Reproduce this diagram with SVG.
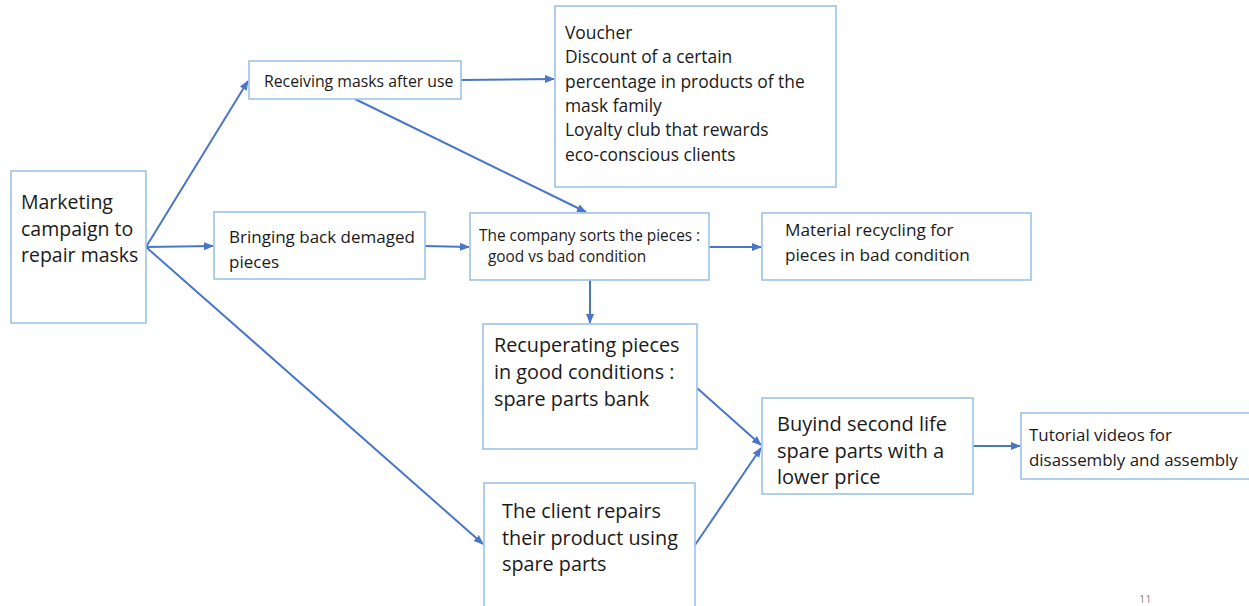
<svg xmlns="http://www.w3.org/2000/svg" width="1249" height="606" viewBox="0 0 1249 606">
<defs>
<style>
.box{fill:#fff;stroke:#9dc3e6;stroke-width:1.6}
.t{font-family:"Open Sans",Lato,"Liberation Sans",sans-serif;fill:#1a1a1a}
.c{fill:none;stroke:#4a76c8;stroke-width:2}
</style>
<marker id="ah" viewBox="0 0 10 10" refX="9" refY="5" markerWidth="5" markerHeight="5" orient="auto" markerUnits="strokeWidth">
<path d="M0,1 L10,5 L0,9 Z" fill="#4a76c8"/>
</marker>
</defs>
<rect width="1249" height="606" fill="#fff"/>
<g id="connectors">
<line class="c" x1="146" y1="247" x2="248" y2="81" marker-end="url(#ah)"/>
<line class="c" x1="146" y1="247" x2="213" y2="246" marker-end="url(#ah)"/>
<line class="c" x1="146" y1="247" x2="483" y2="544" marker-end="url(#ah)"/>
<line class="c" x1="461" y1="80" x2="554" y2="79" marker-end="url(#ah)"/>
<line class="c" x1="355" y1="99" x2="586" y2="212" marker-end="url(#ah)"/>
<line class="c" x1="425" y1="246" x2="469" y2="247" marker-end="url(#ah)"/>
<line class="c" x1="709" y1="247" x2="761" y2="247" marker-end="url(#ah)"/>
<line class="c" x1="590" y1="280" x2="590" y2="323" marker-end="url(#ah)"/>
<line class="c" x1="697" y1="388" x2="761" y2="445" marker-end="url(#ah)"/>
<line class="c" x1="695" y1="545" x2="761" y2="448" marker-end="url(#ah)"/>
<line class="c" x1="973" y1="446" x2="1020" y2="446" marker-end="url(#ah)"/>
</g>
<g id="marketing">
<rect class="box" x="11" y="171" width="135" height="152"/>
<text class="t" font-size="19.5"><tspan x="21" y="209">Marketing</tspan><tspan x="21" y="236">campaign to</tspan><tspan x="21" y="262">repair masks</tspan></text>
</g>
<g id="receiving">
<rect class="box" x="249" y="61" width="212" height="38"/>
<text class="t" font-size="15.8" x="264" y="87">Receiving masks after use</text>
</g>
<g id="voucher">
<rect class="box" x="555" y="6" width="281" height="181"/>
<text class="t" font-size="17.4"><tspan x="565" y="39">Voucher</tspan><tspan x="565" y="63">Discount of a certain</tspan><tspan x="565" y="88">percentage in products of the</tspan><tspan x="565" y="112">mask family</tspan><tspan x="565" y="136">Loyalty club that rewards</tspan><tspan x="565" y="161">eco-conscious clients</tspan></text>
</g>
<g id="bringing">
<rect class="box" x="214" y="212" width="211" height="67"/>
<text class="t" font-size="17"><tspan x="229" y="243">Bringing back demaged</tspan><tspan x="229" y="268">pieces</tspan></text>
</g>
<g id="sorts">
<rect class="box" x="470" y="213" width="239" height="67"/>
<text class="t" font-size="15.4"><tspan x="479" y="241">The company sorts the pieces :</tspan><tspan x="488" y="262">good vs bad condition</tspan></text>
</g>
<g id="material">
<rect class="box" x="762" y="213" width="269" height="67"/>
<text class="t" font-size="17.2"><tspan x="785" y="236">Material recycling for</tspan><tspan x="785" y="261">pieces in bad condition</tspan></text>
</g>
<g id="recuperating">
<rect class="box" x="483" y="324" width="214" height="125"/>
<text class="t" font-size="19.8"><tspan x="494" y="352">Recuperating pieces</tspan><tspan x="494" y="379">in good conditions :</tspan><tspan x="494" y="406">spare parts bank</tspan></text>
</g>
<g id="client">
<rect class="box" x="484" y="483" width="211" height="130"/>
<text class="t" font-size="19.8"><tspan x="502" y="518">The client repairs</tspan><tspan x="502" y="545">their product using</tspan><tspan x="502" y="571">spare parts</tspan></text>
</g>
<g id="buyind">
<rect class="box" x="762" y="398" width="211" height="96"/>
<text class="t" font-size="20"><tspan x="777" y="431">Buyind second life</tspan><tspan x="777" y="458">spare parts with a</tspan><tspan x="777" y="484">lower price</tspan></text>
</g>
<g id="tutorial">
<rect class="box" x="1021" y="413" width="232" height="66"/>
<text class="t" font-size="16.9"><tspan x="1029" y="441">Tutorial videos for</tspan><tspan x="1029" y="466">disassembly and assembly</tspan></text>
</g>
<text class="t" font-size="11" x="1139" y="603" style="fill:#8a8a8a">11</text>
</svg>
